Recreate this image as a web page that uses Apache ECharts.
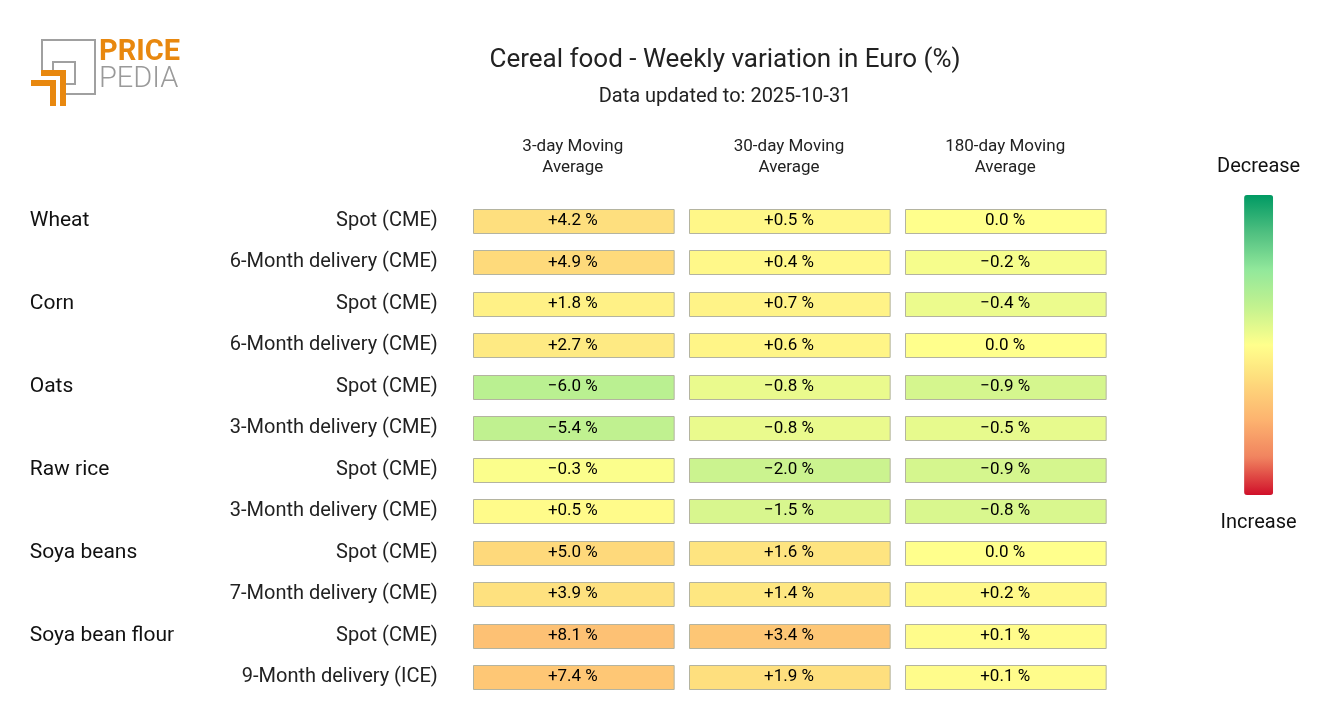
<!DOCTYPE html>
<html>
<head>
<meta charset="utf-8">
<script src="https://cdn.jsdelivr.net/npm/echarts@6/dist/echarts.min.js"></script>
<style>html,body{margin:0;padding:0;background:#fff}#c{width:1320px;height:720px}</style>
</head>
<body>
<div id="c"></div>
<script>
const columns = ['3-day Moving\nAverage', '30-day Moving\nAverage', '180-day Moving\nAverage'];
const groups = ['Wheat', '', 'Corn', '', 'Oats', '', 'Raw rice', '', 'Soya beans', '', 'Soya bean flour', ''];
const rows = ['Spot (CME)', '6-Month delivery (CME)', 'Spot (CME)', '6-Month delivery (CME)', 'Spot (CME)', '3-Month delivery (CME)', 'Spot (CME)', '3-Month delivery (CME)', 'Spot (CME)', '7-Month delivery (CME)', 'Spot (CME)', '9-Month delivery (ICE)'];
const ma3 = [4.2, 4.9, 1.8, 2.7, -6.0, -5.4, -0.3, 0.5, 5.0, 3.9, 8.1, 7.4];
const ma30 = [0.5, 0.4, 0.7, 0.6, -0.8, -0.8, -2.0, -1.5, 1.6, 1.4, 3.4, 1.9];
const ma180 = [0.0, -0.2, -0.4, 0.0, -0.9, -0.5, -0.9, -0.8, 0.0, 0.2, 0.1, 0.1];
const ranges = [20, 9, 5];
const palette = ['#009a63', '#4fbf80', '#92e89b', '#c4f28f', '#ffff8c', '#fed97b', '#fdb36f', '#f0835f', '#d0102a'];

const cols = [ma3, ma30, ma180];
const rowIdx = rows.map((r, i) => String(i));

function fmt(v) {
  if (v === 0) return '0.0 %';
  return (v > 0 ? '+' : '\u2212') + Math.abs(v).toFixed(1) + ' %';
}

function renderCell(params, api) {
  const c = api.coord([api.value(0), api.value(1)]);
  const band = api.size([1, 1]);
  const w = band[0] - 15.5, h = 24;
  const x = Math.round(c[0] - w / 2) + 0.5, y = Math.round(c[1] - h / 2) + 0.5;
  return {
    type: 'group',
    children: [
      { type: 'rect', shape: { x: x, y: y, width: w, height: h },
        style: { fill: api.visual('color'), stroke: '#b4b4a0', lineWidth: 1 } },
      { type: 'text', style: { text: fmt(api.value(2)), x: c[0], y: c[1], align: 'center', verticalAlign: 'middle',
        fill: '#000', font: '17px Roboto' } }
    ]
  };
}

const series = cols.map((arr, ci) => ({
  type: 'custom',
  renderItem: renderCell,
  encode: { x: 0, y: 1 },
  data: arr.map((v, ri) => [ci, ri, v]),
  silent: true
}));

const visualMaps = cols.map((arr, ci) => ({
  type: 'continuous',
  seriesIndex: ci,
  dimension: 2,
  min: -ranges[ci],
  max: ranges[ci],
  show: false,
  inRange: { color: palette }
}));
visualMaps.push({
  type: 'continuous',
  seriesIndex: 3,
  min: -1, max: 1,
  show: true,
  inverse: true,
  calculable: false,
  orient: 'vertical',
  left: 1202,
  top: 142,
  itemWidth: 29,
  itemHeight: 300,
  text: ['Increase', 'Decrease'],
  textGap: 18,
  textStyle: { fontSize: 20, color: '#111', fontFamily: 'Roboto' },
  inRange: { color: palette }
});
series.push({ type: 'scatter', data: [], silent: true });

const chart = echarts.init(document.getElementById('c'));
chart.setOption({
  backgroundColor: '#fff',
  animation: false,
  title: {
    text: 'Cereal food - Weekly variation in Euro (%)',
    subtext: 'Data updated to: 2025-10-31',
    left: 720, top: 42, textAlign: 'center',
    itemGap: 14,
    textStyle: { fontSize: 26, fontWeight: 'normal', color: '#222', fontFamily: 'Roboto' },
    subtextStyle: { fontSize: 20, color: '#222', fontFamily: 'Roboto' }
  },
  grid: { left: 464.75, right: 1320 - 1113.25, top: 200.3, bottom: 720 - 697.7 },
  xAxis: {
    type: 'category', position: 'top', data: columns,
    axisLine: { show: false }, axisTick: { show: false }, splitLine: { show: false },
    axisLabel: { fontSize: 17, lineHeight: 21, color: '#222', margin: 22, fontFamily: 'Roboto' }
  },
  yAxis: [{
    type: 'category', inverse: true, data: rowIdx,
    axisLine: { show: false }, axisTick: { show: false }, splitLine: { show: false },
    axisLabel: { fontSize: 20, color: '#222', margin: 27, fontFamily: 'Roboto', formatter: (v, i) => rows[i] }
  }, {
    type: 'category', inverse: true, data: rowIdx, position: 'left',
    axisLine: { show: false }, axisTick: { show: false }, splitLine: { show: false },
    axisLabel: { fontSize: 21, color: '#111', margin: 435, align: 'left', padding: [0, 0, 8, 0], fontFamily: 'Roboto', formatter: (v, i) => groups[i] }
  }],
  visualMap: visualMaps,
  graphic: [
    { type: 'polyline', shape: { points: [[42, 70], [42, 40], [95, 40], [95, 94], [66, 94]] }, style: { stroke: '#a0a0a0', lineWidth: 2, fill: null } },
    { type: 'polyline', shape: { points: [[53, 72], [53, 62], [75, 62], [75, 84], [66, 84]] }, style: { stroke: '#a0a0a0', lineWidth: 2, fill: null } },
    { type: 'polygon', shape: { points: [[41, 70], [66, 70], [66, 106], [60, 106], [60, 76], [41, 76]] }, style: { fill: '#e8880f' } },
    { type: 'polygon', shape: { points: [[31, 80], [56, 80], [56, 106], [50, 106], [50, 86], [31, 86]] }, style: { fill: '#e8880f' } },
    { type: 'text', left: 99, top: 38, style: { text: 'PRICE', fill: '#e8880f', font: 'bold 29px Roboto' } },
    { type: 'text', left: 99, top: 65, style: { text: 'PEDIA', fill: '#9a9a9a', font: '300 29px Roboto' } }
  ],
  series: series
});
</script>
</body>
</html>
